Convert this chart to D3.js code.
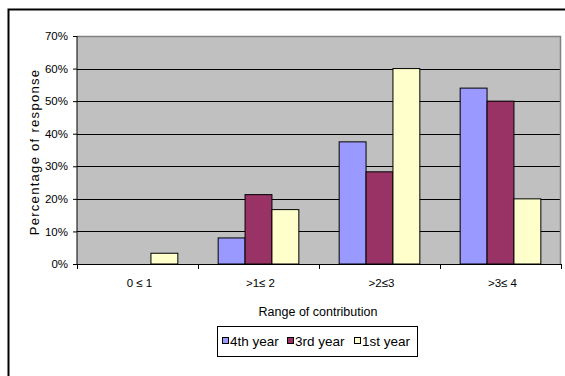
<!DOCTYPE html>
<html>
<head>
<meta charset="utf-8">
<script src="https://cdn.jsdelivr.net/npm/d3@7"></script>
<style>
  html, body { margin: 0; padding: 0; background: #fff; }
  svg { display: block; font-family: "Liberation Sans", Arial, sans-serif; }
</style>
</head>
<body>
<svg id="chart" width="565" height="376"></svg>
<script>
// Share of responses per contribution range, by student year
const categories = ["0 \u2264 1", ">1\u2264 2", ">2\u22643", ">3\u2264 4"];
const seriesNames = ["4th year", "3rd year", "1st year"];
const fourthYear = [0, 8, 37.5, 54];
const thirdYear = [0, 21.3, 28.3, 50];
const firstYear = [3.3, 16.7, 60, 20];
const yTicks = [0, 10, 20, 30, 40, 50, 60, 70];
const seriesColors = ["#9999FF", "#993366", "#FFFFCC"];

const seriesValues = [fourthYear, thirdYear, firstYear];

const svg = d3.select("#chart");
const plot = { left: 77, right: 561, top: 36, bottom: 264 };

// Outer chart frame (runs past the right and bottom edges)
svg.append("rect")
  .attr("x", 8.5).attr("y", 9.5)
  .attr("width", 600).attr("height", 400)
  .attr("fill", "none").attr("stroke", "#000").attr("stroke-width", 2);

const x = d3.scaleBand().domain(categories).range([plot.left, plot.right]).paddingInner(0).paddingOuter(0);
const x1 = d3.scaleBand().domain(seriesNames).range([0, x.bandwidth()]).paddingOuter(0.75).paddingInner(0);
const y = d3.scaleLinear().domain([0, 70]).range([plot.bottom, plot.top]);

// Plot background
svg.append("rect")
  .attr("x", plot.left).attr("y", plot.top)
  .attr("width", plot.right - plot.left).attr("height", plot.bottom - plot.top)
  .attr("fill", "#C0C0C0");

// Horizontal gridlines
svg.append("g").selectAll("line")
  .data(yTicks.filter(t => t > 0 && t < 70))
  .join("line")
  .attr("x1", plot.left).attr("x2", plot.right)
  .attr("y1", d => Math.round(y(d)) + 0.5).attr("y2", d => Math.round(y(d)) + 0.5)
  .attr("stroke", "#000").attr("stroke-width", 1);

// Plot border (top and right)
svg.append("path")
  .attr("d", `M${plot.left},${plot.top + 0.5}H${plot.right - 0.5}V${plot.bottom}`)
  .attr("fill", "none").attr("stroke", "#808080").attr("stroke-width", 1.5);

// Bars
const groups = svg.append("g").selectAll("g")
  .data(categories)
  .join("g")
  .attr("transform", d => `translate(${x(d)},0)`);

groups.selectAll("rect")
  .data((c, i) => seriesNames.map((s, j) => ({ s, v: seriesValues[j][i], color: seriesColors[j] })))
  .join("rect")
  .filter(d => d.v > 0)
  .attr("x", d => x1(d.s))
  .attr("y", d => y(d.v))
  .attr("width", x1.bandwidth())
  .attr("height", d => plot.bottom - y(d.v))
  .attr("fill", d => d.color)
  .attr("stroke", "#000").attr("stroke-width", 1);

// Y axis
const yAxis = d3.axisLeft(y).tickValues(yTicks).tickFormat(d => d + "%").tickSize(4).tickPadding(5);
const gy = svg.append("g").attr("transform", `translate(${plot.left},0)`).call(yAxis);
gy.select(".domain").attr("stroke", "#000").attr("d", `M0,${plot.top}V${plot.bottom}`);
gy.selectAll(".tick line").attr("stroke", "#000");
gy.selectAll("text").attr("font-size", 11.5).attr("fill", "#000").attr("font-family", "Liberation Sans, Arial, sans-serif");

// X axis with ticks at category boundaries
svg.append("line")
  .attr("x1", plot.left).attr("x2", plot.right)
  .attr("y1", plot.bottom + 0.5).attr("y2", plot.bottom + 0.5)
  .attr("stroke", "#000");
const boundaries = categories.map(c => x(c)).concat([x(categories[categories.length - 1]) + x.bandwidth()]);
svg.append("g").selectAll("line")
  .data(boundaries)
  .join("line")
  .attr("x1", d => Math.round(d) + 0.5).attr("x2", d => Math.round(d) + 0.5)
  .attr("y1", plot.bottom).attr("y2", plot.bottom + 5)
  .attr("stroke", "#000");
svg.append("g").selectAll("text")
  .data(categories)
  .join("text")
  .attr("x", d => x(d) + x.bandwidth() / 2 + 2)
  .attr("y", 287)
  .attr("text-anchor", "middle")
  .attr("font-size", 11.5)
  .text(d => d);

// Axis titles
svg.append("text")
  .attr("x", (plot.left + plot.right) / 2 - 1)
  .attr("y", 316)
  .attr("text-anchor", "middle")
  .attr("font-size", 12.5)
  .text("Range of contribution");

svg.append("text")
  .attr("transform", `translate(39,${(plot.top + plot.bottom) / 2 + 2}) rotate(-90)`)
  .attr("text-anchor", "middle")
  .attr("font-size", 13)
  .attr("letter-spacing", 1.3)
  .text("Percentage of response");

// Legend
const legend = svg.append("g");
legend.append("rect")
  .attr("x", 217.5).attr("y", 326.5).attr("width", 200).attr("height", 30)
  .attr("fill", "#fff").attr("stroke", "#000");
const legendX = [222, 287, 354];
const items = legend.selectAll("g.item")
  .data(seriesNames)
  .join("g").attr("class", "item")
  .attr("transform", (d, i) => `translate(${legendX[i]},341)`);
items.append("rect")
  .attr("x", 0.5).attr("y", -3.5).attr("width", 6).attr("height", 6)
  .attr("fill", (d, i) => seriesColors[i]).attr("stroke", "#000");
items.append("text")
  .attr("x", 8).attr("y", 5)
  .attr("font-size", 13.5)
  .text(d => d);
</script>
</body>
</html>
